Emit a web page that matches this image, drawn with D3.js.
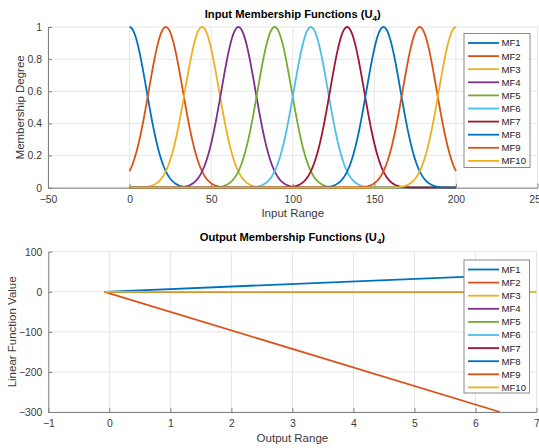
<!DOCTYPE html>
<html><head><meta charset="utf-8">
<script src="https://cdn.jsdelivr.net/npm/d3@7"></script>
<style>body{margin:0;background:#fff}svg{display:block;font-family:"Liberation Sans",Arial,sans-serif}</style>
</head><body><svg id="c" width="539" height="448"></svg>
<script>
// ---- data ----
const mfNames = ["MF1","MF2","MF3","MF4","MF5","MF6","MF7","MF8","MF9","MF10"];
const colors = ["#0072BD","#D95319","#EDB120","#7E2F8E","#77AC30","#4DBEEE","#A2142F","#0072BD","#D95319","#EDB120"];
// Input Gaussian membership functions: centre and width
const inCenters = [0, 22.2, 44.4, 66.7, 88.9, 111.1, 133.3, 155.6, 177.8, 200];
const inSigmas  = [10.4, 10.4, 10.4, 10.4, 10.4, 10.4, 10.4, 10.4, 10.4, 10.4];
const inDomain = [0, 200];
const inXTicks = [-50, 0, 50, 100, 150, 200, 250];
const inYTicks = [0, 0.2, 0.4, 0.6, 0.8, 1];
// Output linear functions: value at start and end of plotted range
const outXStart = [-0.08,-0.08,-0.08,-0.08,-0.08,-0.08,-0.08,-0.08,-0.08,-0.08];
const outXEnd   = [6.4, 6.4, 6.4, 6.4, 6.4, 6.4, 6.4, 6.4, 6.4, 7.2];
const outYStart = [0, 0, 0, 0, 0, 0, 0, 0, 0, 0];
const outYEnd   = [0, 0, 0, 0, 0, 0, 0, 41, -300, 0];
const outXTicks = [-1, 0, 1, 2, 3, 4, 5, 6, 7];
const outYTicks = [-300, -200, -100, 0, 100];

const svg = d3.select("#c");
const gridC = "#e6e6e6", axisC = "#808080", textC = "#3a3a3a";

function panel(cfg){
  const {x, y} = cfg;
  const g = svg.append("g");
  const [x0,x1] = x.range(), [y1,y0] = y.range();
  g.append("g").selectAll("line").data(cfg.xTicks).join("line")
    .attr("x1",d=>x(d)).attr("x2",d=>x(d)).attr("y1",y0).attr("y2",y1)
    .attr("stroke",gridC).attr("stroke-width",1);
  g.append("g").selectAll("line").data(cfg.yTicks).join("line")
    .attr("x1",x0).attr("x2",x1).attr("y1",d=>y(d)).attr("y2",d=>y(d))
    .attr("stroke",gridC).attr("stroke-width",1);
  const ax = g.append("g").attr("transform",`translate(0,${y1})`)
    .call(d3.axisBottom(x).tickValues(cfg.xTicks).tickSizeInner(-4).tickSizeOuter(0).tickPadding(8).tickFormat(d3.format("d")));
  const ay = g.append("g").attr("transform",`translate(${x0},0)`)
    .call(d3.axisLeft(y).tickValues(cfg.yTicks).tickSizeInner(-4).tickSizeOuter(0).tickPadding(6).tickFormat(cfg.yFmt));
  [ax,ay].forEach(a=>{
    a.select(".domain").attr("stroke",axisC);
    a.selectAll(".tick line").attr("stroke",axisC);
    a.selectAll("text").attr("fill",textC).attr("font-size",10.4).attr("font-family","Liberation Sans, Arial, sans-serif");
  });
  ax.selectAll("text").attr("dy","0.71em");
  const id = "clip"+cfg.id;
  svg.append("clipPath").attr("id",id).append("rect")
    .attr("x",x0).attr("y",y0-1).attr("width",x1-x0).attr("height",y1-y0+2);
  const lines = g.append("g").attr("clip-path",`url(#${id})`);
  cfg.draw(lines);
  const t = g.append("text").attr("x",(x0+x1)/2).attr("y",cfg.titleY).attr("text-anchor","middle")
    .attr("font-weight","bold").attr("font-size",11.2).attr("fill","#000");
  t.append("tspan").text(cfg.title);
  t.append("tspan").attr("font-size",8).attr("dy",3).text("4");
  t.append("tspan").attr("dy",-3).text(")");
  g.append("text").attr("x",(x0+x1)/2).attr("y",cfg.xLabelY).attr("text-anchor","middle")
    .attr("font-size",11.5).attr("fill",textC).text(cfg.xLabel);
  g.append("text").attr("transform",`translate(${cfg.yLabelX},${(y0+y1)/2}) rotate(-90)`)
    .attr("text-anchor","middle").attr("font-size",11.5).attr("fill",textC).text(cfg.yLabel);
  const L = cfg.legend;
  const lg = g.append("g");
  lg.append("rect").attr("x",L.x).attr("y",L.y).attr("width",L.w).attr("height",L.h)
    .attr("fill","#fff").attr("stroke","#8a8a8a").attr("stroke-width",1);
  mfNames.forEach((n,i)=>{
    const yy = L.y + 9.5 + i*13.1;
    lg.append("line").attr("x1",L.x+4).attr("x2",L.x+35).attr("y1",yy).attr("y2",yy)
      .attr("stroke",colors[i]).attr("stroke-width",1.8);
    lg.append("text").attr("x",L.x+37.5).attr("y",yy+3.4).attr("font-size",9.6).attr("fill","#222").text(n);
  });
}

const x1s = d3.scaleLinear().domain([-50,250]).range([48,537.5]);
const y1s = d3.scaleLinear().domain([0,1]).range([187.7,27]);
panel({id:"a", x:x1s, y:y1s, xTicks:inXTicks, yTicks:inYTicks, yFmt:d3.format("~g"),
  title:"Input Membership Functions (U", titleY:18, xLabel:"Input Range", xLabelY:217,
  yLabel:"Membership Degree", yLabelX:24, legend:{x:464, y:33.5, w:66, h:134},
  draw(g){
    const xs = d3.range(inDomain[0], inDomain[1]+0.001, 0.5);
    const line = d3.line().x(d=>x1s(d[0])).y(d=>y1s(d[1]));
    mfNames.forEach((n,i)=>{
      const pts = xs.map(v=>[v, Math.exp(-((v-inCenters[i])**2)/(2*inSigmas[i]**2))]);
      g.append("path").attr("d",line(pts)).attr("fill","none")
        .attr("stroke",colors[i]).attr("stroke-width",1.8);
    });
  }});

const x2s = d3.scaleLinear().domain([-1,7]).range([48.3,536.5]);
const y2s = d3.scaleLinear().domain([-300,100]).range([412,251.7]);
panel({id:"b", x:x2s, y:y2s, xTicks:outXTicks, yTicks:outYTicks, yFmt:d3.format("d"),
  title:"Output Membership Functions (U", titleY:241, xLabel:"Output Range", xLabelY:442,
  yLabel:"Linear Function Value", yLabelX:16, legend:{x:464, y:260, w:65.5, h:133},
  draw(g){
    mfNames.forEach((n,i)=>{
      g.append("line").attr("x1",x2s(outXStart[i])).attr("y1",y2s(outYStart[i]))
        .attr("x2",x2s(outXEnd[i])).attr("y2",y2s(outYEnd[i]))
        .attr("stroke",colors[i]).attr("stroke-width",1.8);
    });
  }});
</script></body></html>
